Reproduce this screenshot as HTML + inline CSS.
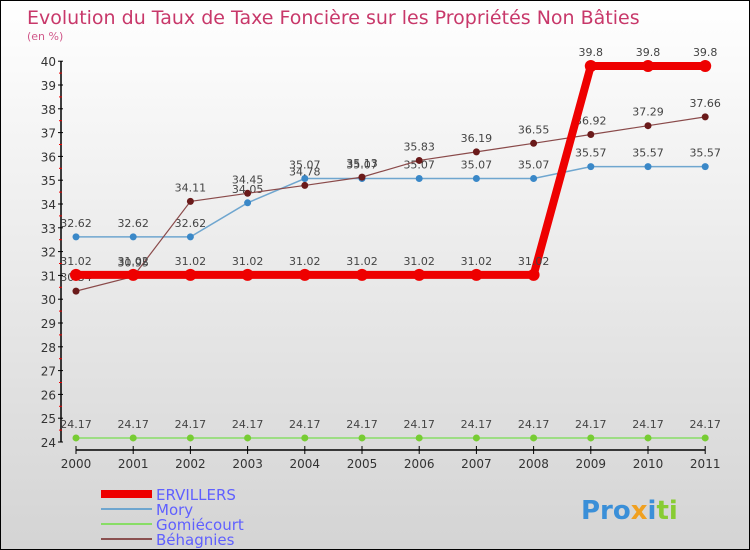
<!DOCTYPE html>
<html><head><meta charset="utf-8"><style>
body{margin:0}
#c{width:750px;height:550px;position:relative;box-sizing:border-box;border:1px solid #000;background:linear-gradient(#fff,#d4d4d4);font-family:"DejaVu Sans","Liberation Sans",sans-serif;overflow:hidden}
</style></head><body>
<div id="c">
<svg id="s" width="748" height="548" xmlns="http://www.w3.org/2000/svg">
<text x="26" y="23" font-size="19" fill="#c8386a">Evolution du Taux de Taxe Foncière sur les Propriétés Non Bâties</text>
<text x="26" y="39" font-size="11" fill="#d0588a">(en %)</text>
<g id="ax"></g><g id="series"></g>
<g font-size="15" fill="#6060ff">
<rect x="100" y="489" width="51" height="8" fill="#e00"/>
<text x="155" y="499">ERVILLERS</text>
<rect x="100" y="507" width="51" height="2" fill="#6fa6cf"/>
<text x="155" y="514">Mory</text>
<rect x="100" y="522" width="51" height="2" fill="#88dd66"/>
<text x="155" y="529">Gomiécourt</text>
<rect x="100" y="537" width="51" height="2" fill="#8a5050"/>
<text x="155" y="544">Béhagnies</text>
</g>
<text x="580" y="518" font-size="26" font-weight="bold"><tspan fill="#3a8fd8">Pro</tspan><tspan fill="#f0a020">x</tspan><tspan fill="#3a8fd8">i</tspan><tspan fill="#88cc33">ti</tspan></text>
</svg></div>
<script>
const years=[2000,2001,2002,2003,2004,2005,2006,2007,2008,2009,2010,2011];
const ervillers=[31.02,31.02,31.02,31.02,31.02,31.02,31.02,31.02,31.02,39.8,39.8,39.8];
const mory=[32.62,32.62,32.62,34.05,35.07,35.07,35.07,35.07,35.07,35.57,35.57,35.57];
const gomiecourt=[24.17,24.17,24.17,24.17,24.17,24.17,24.17,24.17,24.17,24.17,24.17,24.17];
const behagnies=[30.34,30.95,34.11,34.45,34.78,35.13,35.83,36.19,36.55,36.92,37.29,37.66];
const yTicks=[24,25,26,27,28,29,30,31,32,33,34,35,36,37,38,39,40];
const NS="http://www.w3.org/2000/svg";
const X=i=>75+i*57.2, Y=v=>441-(v-24)*23.8;
function mk(t,a,p,txt){const e=document.createElementNS(NS,t);for(const k in a)e.setAttribute(k,a[k]);if(txt!==undefined)e.textContent=txt;p.appendChild(e);return e;}
const ax=document.getElementById('ax');
let l=mk('line',{x1:60,y1:Y(40),x2:60,y2:Y(24),stroke:'#000','stroke-width':1.5},ax);

l=mk('line',{x1:X(0),y1:449,x2:X(11),y2:449,stroke:'#000','stroke-width':1.5},ax);

yTicks.forEach((v,i)=>{mk('line',{x1:57,y1:Y(v),x2:62,y2:Y(v),stroke:'#000'},ax);
 if(i<yTicks.length-1)mk('line',{x1:58,y1:Y(v+0.5),x2:61,y2:Y(v+0.5),stroke:'#e00'},ax);
 const t=mk('text',{x:55,y:Y(v)+5,'text-anchor':'end','font-size':12,fill:'#333'},ax,String(v));
 });
years.forEach((yr,i)=>{mk('line',{x1:X(i),y1:445,x2:X(i),y2:453,stroke:'#000'},ax);
 const t=mk('text',{x:X(i),y:467,'text-anchor':'middle','font-size':12,fill:'#333'},ax,String(yr));
 });
const sg=document.getElementById('series');
function draw(name,vals,col,dot,w,r){const g=mk('g',{},sg);
 
 const p=mk('polyline',{points:vals.map((v,i)=>X(i)+','+Y(v)).join(' '),fill:'none',stroke:col,'stroke-width':w},g);
 
 vals.forEach((v,i)=>{const c=mk('circle',{cx:X(i),cy:Y(v),r:r,fill:dot},g);
  
  const t=mk('text',{x:X(i),y:Y(v)-10,'text-anchor':'middle','font-size':11,fill:'#444'},g,String(v));
  });}
draw('gomiecourt',gomiecourt,'#88dd66','#77cc33',1.5,3.5);
draw('mory',mory,'#6fa6cf','#3a88c8',1.5,3.5);
draw('behagnies',behagnies,'#8a4a4a','#6a1a1a',1.2,3.5);
draw('ervillers',ervillers,'#ee0000','#ee0000',8,6);
</script></body></html>
